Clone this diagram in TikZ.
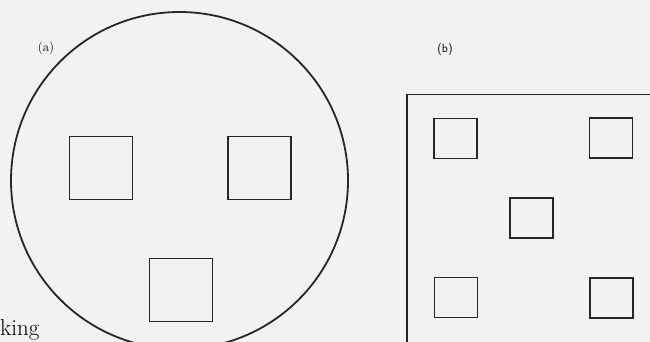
\documentclass[tikz,border=0pt]{standalone}
\begin{document}
\begin{tikzpicture}[x=1pt,y=-1pt,
  line/.style={line width=1.8pt,draw=black!85},
  bigsq/.style={line,minimum size=63pt,inner sep=0pt,outer sep=0pt},
  smsq/.style={line,minimum width=43pt,minimum height=40pt,inner sep=0pt,outer sep=0pt},
  lab/.style={font=\fontsize{13}{15}\selectfont,inner sep=0pt}]
\useasboundingbox (0,0) rectangle (650,342);
\fill[black!5] (0,0) rectangle (650,342);
\clip (0,0) rectangle (650,342);
% (a)
\node[line,circle,minimum size=337pt,inner sep=0pt] (circ) at (179.5,180.5) {};
\node[bigsq] (a1) at (101,168) {};
\node[bigsq] (a2) at (259.5,168) {};
\node[bigsq] (a3) at (181,290) {};
\node[lab] (la) at (46,48) {(a)};
% (b)
\coordinate (r1) at (407,345);
\coordinate (r2) at (407,94.5);
\coordinate (r3) at (655,94.5);
\draw[line] (r1) -- (r2) -- (r3);
\node[smsq] (b1) at (455.5,138.5) {};
\node[smsq] (b2) at (611,138) {};
\node[smsq] (b3) at (531.5,218) {};
\node[smsq] (b4) at (456,297.5) {};
\node[smsq] (b5) at (611.5,298) {};
\node[lab,font=\fontsize{12}{14}\selectfont\sffamily] (lb) at (445,50) {(b)};
\node[anchor=base west,inner sep=0pt,font=\fontsize{23}{26}\selectfont] (k) at (0,335) {king};
\end{tikzpicture}
\end{document}
